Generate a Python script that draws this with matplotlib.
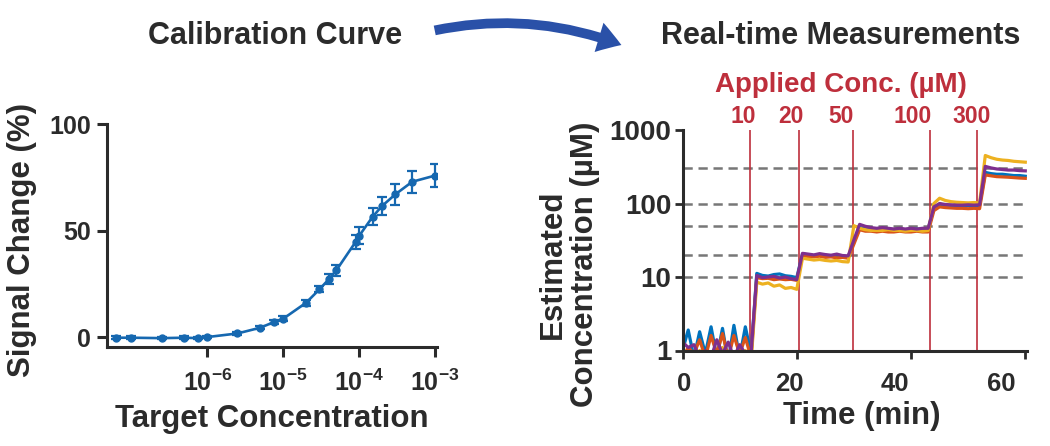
import matplotlib
matplotlib.use("Agg")
import matplotlib.pyplot as plt
from matplotlib.patches import FancyArrowPatch
from matplotlib.ticker import FixedLocator, NullLocator
from matplotlib.transforms import ScaledTranslation, blended_transform_factory

plt.rcParams['font.family'] = ['Liberation Sans', 'DejaVu Sans']
plt.rcParams['font.weight'] = 'bold'
plt.rcParams['axes.labelweight'] = 'bold'
plt.rcParams['mathtext.fontset'] = 'custom'
plt.rcParams['mathtext.rm'] = 'Liberation Sans:bold'
plt.rcParams['mathtext.bf'] = 'Liberation Sans:bold'

# calibration curve (left)
conc = [6.2e-8, 1e-7, 2.5e-7, 5e-7, 7.5e-7, 1e-6, 2.5e-6, 5e-6, 7.5e-6, 1e-5,
        2e-5, 3e-5, 4e-5, 5e-5, 9e-5, 1e-4, 1.5e-4, 2e-4, 3e-4, 5e-4, 1e-3]
signal = [-0.3, -0.3, -0.5, -0.3, -0.5, 0.0, 1.7, 4.4, 7.0, 8.6,
          16.1, 22.4, 27.2, 31.3, 44.7, 47.5, 56.4, 61.5, 67.0, 72.9, 75.8]
signal_err = [0.6, 0.6, 0.6, 0.6, 0.6, 0.6, 0.7, 0.8, 1.0, 1.2,
              1.3, 1.4, 2.5, 2.5, 3.2, 4.0, 4.0, 4.2, 5.0, 5.2, 5.5]
conc_ticks = [1e-6, 1e-5, 1e-4, 1e-3]
conc_labels = [r'$\mathbf{10^{-6}}$', r'$\mathbf{10^{-5}}$', r'$\mathbf{10^{-4}}$', r'$\mathbf{10^{-3}}$']

# real-time measurements (right)
time_min = list(range(61))
est_blue = [1.0, 1.9, 0.8, 1.8, 0.9, 2.1, 0.8, 2.0, 0.7, 2.2, 0.8, 2.1, 0.9,
            11.2, 10.5, 10.3, 10.8, 11.0, 10.4, 10.2, 9.8,
            20.5, 20.0, 19.5, 20.2, 19.8, 19.0, 19.5, 19.2, 18.8,
            30,
            47, 46, 45, 45, 44, 45, 44, 45, 44, 45, 45, 44, 45,
            85,
            98, 95, 94, 94, 93, 94, 93, 94,
            265, 255, 250, 250, 245, 240, 240, 235]
est_orange = [0.8, 1.1, 0.9, 1.4, 0.8, 1.6, 0.9, 1.7, 0.8, 1.6, 0.9, 1.5, 0.8,
              9.8, 9.5, 9.6, 9.2, 9.4, 9.2, 9.3, 9.0,
              19.5, 19.0, 18.8, 19.2, 18.5, 18.8, 18.2, 18.5, 18.0,
              28,
              44, 42, 42, 41, 42, 41, 41, 42, 41, 41, 42, 41, 41,
              80,
              90, 88, 87, 86, 86, 85, 86, 85,
              245, 238, 232, 230, 228, 225, 222, 220]
est_yellow = [0.7, 0.9, 0.6, 1.0, 0.7, 0.9, 0.6, 1.1, 0.7, 0.9, 0.6, 1.0, 0.7,
              8.5, 8.0, 8.3, 7.5, 7.8, 7.0, 7.2, 6.8,
              18.0, 17.5, 17.0, 17.3, 16.8, 16.5, 16.8, 16.2, 16.0,
              50,
              46, 44, 43, 43, 43, 44, 43, 43, 42, 43, 43, 42, 43,
              100,
              118, 110, 106, 104, 103, 102, 103, 102,
              450, 420, 400, 390, 385, 375, 370, 365]
est_purple = [1.3, 1.1, 1.2, 0.8, 1.0, 0.8, 1.4, 0.9, 1.3, 0.8, 1.2, 0.9, 0.9,
              10.5, 9.8, 10.0, 10.2, 9.7, 10.0, 9.5, 9.2,
              21.0, 20.5, 20.0, 20.8, 20.2, 19.8, 20.5, 19.6, 19.4,
              32,
              52, 49, 47, 46, 47, 46, 45, 46, 45, 46, 45, 46, 46,
              90,
              100, 97, 96, 95, 95, 96, 95, 96,
              320, 305, 295, 290, 285, 285, 280, 278]
applied_conc = [10, 20, 50, 100, 300]
applied_labels = ['10', '20', '50', '100', '300']
inject_time = [11.9, 20.35, 29.85, 43.4, 51.6]
label_time = [10.55, 18.9, 27.7, 40.3, 50.6]

dark = '#2b2b2b'
red = '#be2f3c'

fig = plt.figure(figsize=(10.5, 4.46), dpi=100)

ax1 = fig.add_axes([107.3 / 1050, (446 - 347.3) / 446, 329.4 / 1050, 223.3 / 446])
ax1.set_xscale('log')
ax1.errorbar(conc, signal, yerr=signal_err, fmt='-o', color='#1668b0', ms=5,
             lw=1.9, elinewidth=1.6, capsize=3.5, capthick=1.6)
ax1.set_xlim(4.83e-8, 1.05e-3)
ax1.set_ylim(-4.8, 100)
ax1.xaxis.set_major_locator(FixedLocator(conc_ticks))
ax1.xaxis.set_minor_locator(NullLocator())
ax1.set_xticklabels(conc_labels)
ax1.set_yticks([0, 50, 100])
ax1.tick_params(axis='y', labelsize=18, length=7.5, width=2.2, colors=dark, pad=4)
ax1.tick_params(axis='x', labelsize=18, length=7, width=2.2, colors=dark, pad=9)
ax1.set_xlabel('Target Concentration', fontsize=22.5, color=dark)
ax1.set_ylabel('Signal Change (%)', fontsize=22.5, color=dark)
ax1.xaxis.set_label_coords(0.5, -0.255)
ax1.yaxis.set_label_coords(-0.213, 0.48)

ax2 = fig.add_axes([682.5 / 1050, (446 - 350.5) / 446, 344.5 / 1050, 220.5 / 446])
ax2.set_yscale('log')
for c in applied_conc:
    ax2.axhline(c, color='#777777', lw=1.8, dashes=(3.7, 2.3), zorder=1)
for t in inject_time:
    ax2.axvline(t, color=red, lw=1.2, zorder=1.5)
ax2.plot(time_min, est_blue, color='#0072BD', lw=2.3, zorder=2)
ax2.plot(time_min, est_orange, color='#D95319', lw=2.3, zorder=2)
ax2.plot(time_min, est_yellow, color='#EDB120', lw=2.3, zorder=2)
ax2.plot(time_min, est_purple, color='#7E2F8E', lw=2.3, zorder=2)
ax2.set_xlim(0, 60.3)
ax2.set_ylim(1, 1000)
ax2.yaxis.set_major_locator(FixedLocator([1, 10, 100, 1000]))
ax2.yaxis.set_minor_locator(NullLocator())
ax2.set_yticklabels(['1', '10', '100', '1000'])
ax2.set_xticks([0, 20, 40, 60])
ax2.tick_params(axis='y', labelsize=20, length=5.5, width=2, colors=dark, pad=2.5)
ax2.tick_params(axis='x', labelsize=18.5, length=5.5, width=2, colors=dark, pad=10)
# the x tick labels in the reference sit a little left of their ticks
for lab, dx in zip(ax2.get_xticklabels(), [1, -5.5, -11.7, -17]):
    lab.set_transform(lab.get_transform() + ScaledTranslation(dx / 72, 0, fig.dpi_scale_trans))
ax2.set_xlabel('Time (min)', fontsize=22.5, color=dark)
ax2.set_ylabel('Estimated\nConcentration (µM)', fontsize=22.5, color=dark, linespacing=1.1)
ax2.xaxis.set_label_coords(0.52, -0.23)
ax2.yaxis.set_label_coords(-0.239, 0.39)

trans = blended_transform_factory(ax2.transData, ax2.transAxes)
for t, lab in zip(label_time, applied_labels):
    ax2.text(t, 1.03, lab, transform=trans, ha='center', va='baseline',
             fontsize=16.5, color=red)
ax2.text(27.8, 1.173, 'Applied Conc. (µM)', transform=trans, ha='center',
         va='baseline', fontsize=20, color=red)

for ax in (ax1, ax2):
    for side in ('top', 'right'):
        ax.spines[side].set_visible(False)
    for side in ('left', 'bottom'):
        ax.spines[side].set_linewidth(2.2)
        ax.spines[side].set_color(dark)

fig.text(275 / 1050, 1 - 44 / 446, 'Calibration Curve', ha='center', va='baseline',
         fontsize=22, color=dark)
fig.text(841 / 1050, 1 - 44 / 446, 'Real-time Measurements', ha='center', va='baseline',
         fontsize=22, color=dark)
arrow = FancyArrowPatch((432 / 1050, 1 - 31 / 446), (624 / 1050, 1 - 46 / 446),
                        transform=fig.transFigure, connectionstyle='arc3,rad=-0.15',
                        arrowstyle='simple,head_width=22,head_length=17,tail_width=7',
                        mutation_scale=1, color='#2a51a8', lw=0)
fig.patches.append(arrow)

fig.savefig('out.png', dpi=100)
